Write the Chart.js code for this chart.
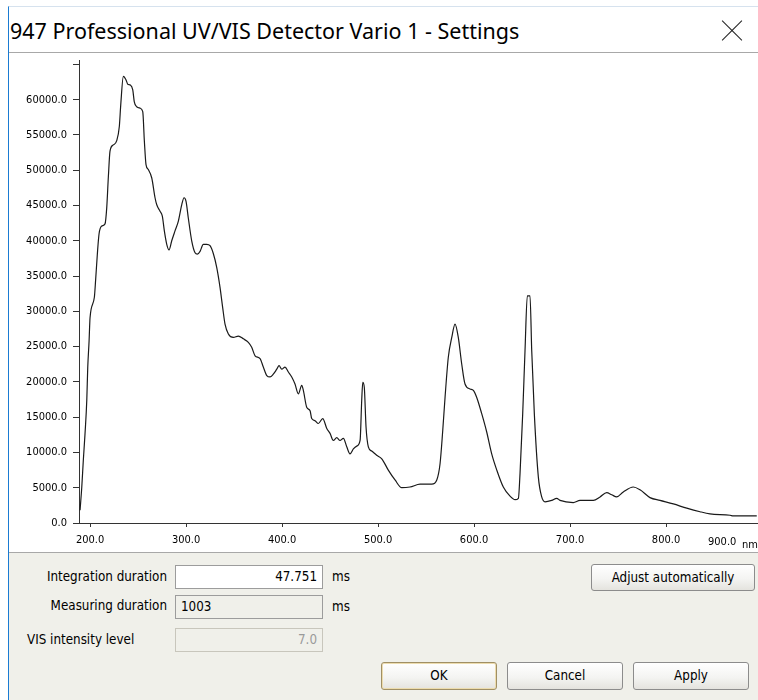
<!DOCTYPE html>
<html>
<head>
<meta charset="utf-8">
<script src="https://cdn.jsdelivr.net/npm/chart.js@4"></script>
<style>
  body { margin: 0; width: 758px; height: 700px; background: #fff; overflow: hidden; position: relative;
         font: 13.3px "DejaVu Sans Condensed", "DejaVu Sans", sans-serif; color: #000; }
  .win { position: absolute; left: 8px; top: 6px; width: 760px; height: 700px; border-left: 1px solid #1a7bd2; border-top: 1px solid #d6e2ee; }
  .title { position: absolute; left: 10px; top: 16px; font: 21.5px "Noto Sans", "Open Sans", sans-serif; white-space: nowrap; }
  .close { position: absolute; left: 722px; top: 21px; width: 20px; height: 20px; }
  .close i { position: absolute; left: -4px; top: 9px; width: 28px; height: 1px; background: #222; }
  .close i:first-child { transform: rotate(45deg); }
  .close i:last-child { transform: rotate(-45deg); }
  .plot { position: absolute; left: 9px; top: 52px; width: 760px; height: 499px; border-top: 1px solid #a8a8a8; border-bottom: 1px solid #a8a8a8; background: #fff; }
  #chart { position: absolute; left: 0; top: 48px; }
  .unit { position: absolute; top: 535px; white-space: nowrap; font-size: 11px; }
  .panel { position: absolute; left: 9px; top: 553px; width: 760px; height: 147px; background: #f0f0ea; }
  .lbl { position: absolute; white-space: nowrap; }
  .box { position: absolute; box-sizing: border-box; border: 1px solid #9c9c9c; padding: 0 5px; line-height: 22px; white-space: nowrap; }
  .btn { position: absolute; box-sizing: border-box; border: 1px solid #8c8c8c; border-radius: 3px; text-align: center;
         background: linear-gradient(#ffffff, #f4f4f2 55%, #e4e3de); line-height: 25px; }
</style>
</head>
<body>
<div class="win"></div>
<div class="title">947 Professional UV/VIS Detector Vario 1 - Settings</div>
<div class="close"><i></i><i></i></div>
<div class="plot"></div>
<canvas id="chart" width="758" height="504"></canvas>
<div class="unit" style="left:708px">900.0</div>
<div class="unit" style="left:742px; top:538px">nm</div>

<div class="panel"></div>
<div class="lbl" style="right:591px; top:569px">Integration duration</div>
<div class="box" style="left:175px; top:565px; width:148px; height:24px; background:#fff; text-align:right">47.751</div>
<div class="lbl" style="left:332px; top:569px">ms</div>
<div class="btn" style="left:591px; top:564px; width:164px; height:27px">Adjust automatically</div>

<div class="lbl" style="right:591px; top:598px">Measuring duration</div>
<div class="box" style="left:175px; top:595px; width:148px; height:24px; background:#f0f0ea">1003</div>
<div class="lbl" style="left:332px; top:599px">ms</div>

<div class="lbl" style="left:27px; top:632px">VIS intensity level</div>
<div class="box" style="left:175px; top:628px; width:148px; height:24px; background:#f0f0ea; border-color:#c8c6bc; color:#9a9a9a; text-align:right">7.0</div>

<div class="btn" style="left:381px; top:662px; width:116px; height:28px; border-color:#a08f64; box-shadow: inset 0 0 0 1px #ecdcae">OK</div>
<div class="btn" style="left:507px; top:662px; width:116px; height:28px">Cancel</div>
<div class="btn" style="left:633px; top:662px; width:116px; height:28px">Apply</div>

<script>
const wavelengths = [189.6, 191.4, 193.0, 194.8, 196.6, 197.6, 199.0, 200.0, 204.5, 205.9, 207.6, 209.4, 212.2, 215.6,
  217.4, 219.1, 220.8, 224.3, 227.8, 230.5, 232.0, 234.7, 237.5, 239.3, 241.7, 244.5, 246.1, 248.6, 252.1, 254.9,
  256.6, 258.3, 260.7, 264.3, 267.7, 269.5, 272.9, 275.3, 277.4, 279.9, 282.3, 285.1, 288.5, 292.0, 295.5, 297.9,
  300.0, 302.4, 305.9, 309.4, 311.8, 314.6, 318.0, 321.6, 325.0, 328.4, 332.0, 335.4, 338.2, 340.6, 344.1, 349.3,
  354.5, 359.7, 364.9, 368.4, 371.9, 377.1, 380.5, 384.1, 387.5, 390.9, 394.5, 396.9, 399.7, 403.1, 406.6, 410.1,
  413.5, 417.0, 420.5, 422.2, 425.7, 429.2, 430.9, 434.4, 437.8, 442.4, 446.6, 450.0, 453.4, 457.0, 460.4, 463.9,
  467.4, 470.8, 474.3, 477.8, 481.3, 483.0, 484.1, 485.7, 487.5, 489.9, 493.4, 498.6, 503.9, 510.7, 517.7, 524.7,
  533.3, 543.8, 556.0, 561.2, 564.6, 567.4, 569.8, 573.2, 576.8, 580.2, 583.6, 587.2, 590.6, 595.8, 599.3, 602.8,
  608.0, 613.2, 618.4, 623.7, 630.5, 637.5, 642.7, 646.2, 647.9, 650.7, 653.1, 655.5, 658.3, 660.1, 662.8, 667.0,
  670.5, 674.0, 680.9, 686.1, 689.6, 703.4, 710.4, 724.3, 731.3, 738.2, 743.4, 748.6, 755.5, 765.9, 772.9, 783.3,
  793.7, 807.6, 821.6, 835.4, 845.8, 866.7, 870.1, 894.5];
const intensities = [1800, 5100, 8900, 12700, 17400, 22000, 25800, 29100, 32000, 34600, 38100, 41000, 42100, 42400,
  44700, 49100, 52700, 53600, 54200, 56200, 59300, 63300, 62800, 62200, 62100, 61400, 59700, 59000, 58800, 58300,
  54100, 50800, 50100, 48900, 46100, 45100, 44200, 43500, 41400, 39500, 38700, 40000, 41400, 42800, 45100, 46100,
  45600, 43200, 40000, 38300, 38100, 38500, 39500, 39500, 39300, 38200, 36200, 33400, 30500, 28200, 26800, 26300,
  26500, 26100, 25600, 24900, 23700, 23300, 22100, 20900, 20700, 21100, 21800, 22300, 21800, 22100, 21400, 20700,
  19700, 18300, 19500, 18800, 16400, 15900, 14800, 14500, 14100, 14800, 13400, 12700, 11700, 12100, 11700, 12000,
  10800, 9800, 10500, 10900, 11700, 17400, 19950, 19200, 13600, 10800, 10200, 9600, 9100, 7500, 6100, 5000,
  5100, 5500, 5500, 6100, 8400, 13100, 17800, 23500, 26300, 28200, 26300, 22500, 19700, 19000, 18800, 17800,
  15500, 12900, 9800, 7500, 5100, 3800, 3300, 3500, 7000, 15500, 24400, 32200, 32200, 24400, 15500, 6500,
  3700, 3000, 3200, 3500, 3200, 2900, 3200, 3200, 3700, 4300, 4000, 3700, 4400, 5100, 4700, 3600,
  3200, 2700, 2100, 1600, 1300, 1100, 1000, 1000];
const xTicks = [200, 300, 400, 500, 600, 700, 800];
const yTicks = [0, 5000, 10000, 15000, 20000, 25000, 30000, 35000, 40000, 45000, 50000, 55000, 60000, 65000];
const yMax = 65540;

const points = wavelengths.map(function (w, i) { return { x: w, y: intensities[i] }; });
const axisFont = { family: '"DejaVu Sans Condensed", "DejaVu Sans"', size: 11 };

new Chart(document.getElementById('chart'), {
  type: 'scatter',
  data: {
    datasets: [{
      data: points,
      showLine: true,
      borderColor: '#1a1a1a',
      borderWidth: 1.2,
      pointRadius: 0,
      cubicInterpolationMode: 'monotone'
    }]
  },
  options: {
    responsive: false,
    animation: false,
    layout: { padding: 0 },
    plugins: { legend: { display: false }, tooltip: { enabled: false } },
    scales: {
      x: {
        type: 'linear',
        min: 188.5,
        max: 895.8,
        afterFit: function (scale) { scale.height = 29; },
        afterBuildTicks: function (scale) { scale.ticks = xTicks.map(function (v) { return { value: v }; }); },
        grid: { drawOnChartArea: false, drawTicks: true, tickLength: 4, color: '#333' },
        border: { color: '#333', width: 1 },
        ticks: { color: '#000', font: axisFont, padding: 7, maxRotation: 0,
                 callback: function (v) { return v.toFixed(1); } }
      },
      y: {
        min: 0,
        max: yMax,
        afterFit: function (scale) { scale.width = 79; },
        afterBuildTicks: function (scale) { scale.ticks = yTicks.map(function (v) { return { value: v }; }); },
        grid: { drawOnChartArea: false, drawTicks: true, tickLength: 6, color: '#333' },
        border: { color: '#333', width: 1 },
        ticks: { color: '#000', font: axisFont, padding: 6,
                 callback: function (v) { return v === 65000 ? '' : v.toFixed(1); } }
      }
    }
  }
});
</script>
</body>
</html>
